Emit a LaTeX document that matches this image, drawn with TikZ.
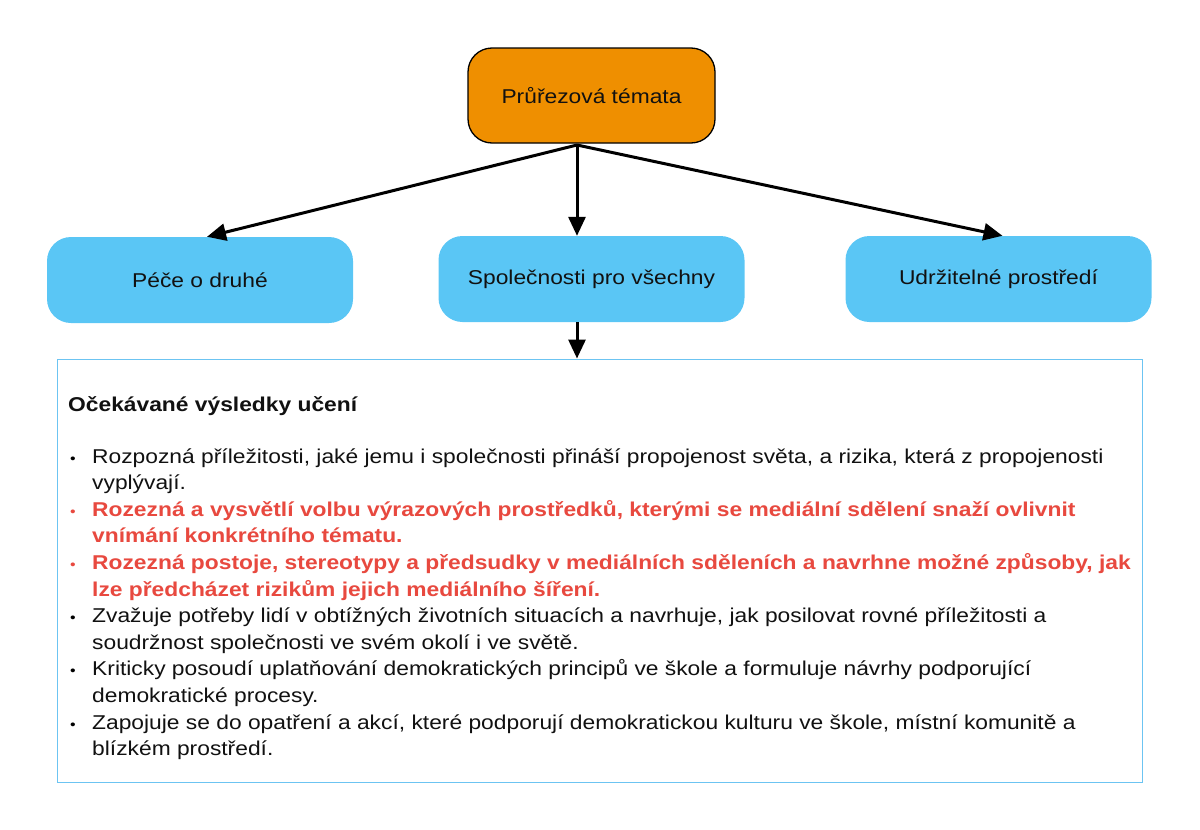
\documentclass[tikz,border=0pt]{standalone}
\usepackage{fontspec}
\setmainfont{Liberation Sans}[FakeStretch=1.14]
\usetikzlibrary{arrows.meta,calc}
\definecolor{topfill}{HTML}{EF8F00}
\definecolor{boxblue}{HTML}{5AC6F5}
\definecolor{frameblue}{HTML}{6CC4F2}
\definecolor{redtext}{HTML}{E8493F}
\definecolor{darktext}{HTML}{111111}
\tikzset{
  topbox/.style={draw=black, line width=1.3pt, fill=topfill, rounded corners=24pt,
    minimum width=247pt, minimum height=95pt, font=\fontsize{20}{24}\selectfont, text=darktext},
  subbox/.style={fill=boxblue, rounded corners=24pt,
    minimum width=306pt, minimum height=86pt, font=\fontsize{20}{24}\selectfont, text=darktext},
  conn/.style={line width=3pt, -{Triangle[length=19pt,width=17pt]}},
  line/.style={anchor=base west, inner sep=0pt, font=\fontsize{20}{24}\selectfont, text=darktext},
  redline/.style={line, font=\fontsize{20}{24}\bfseries\selectfont, text=redtext},
  bul/.style={anchor=base, inner sep=0pt, font=\fontsize{14}{16}\selectfont},
}
\begin{document}
\begin{tikzpicture}[x=1pt,y=-1pt]
\useasboundingbox (0,0) rectangle (1200,830);
\node[topbox] (top) at (591.5,95.5) {Průřezová témata};
\node[subbox] (left) at (200,280) {Péče o druhé};
\node[subbox] (mid) at (591.5,279) {Společnosti pro všechny};
\node[subbox] (right) at (998.5,279) {Udržitelné prostředí};
\node[draw=frameblue, line width=1pt, fill=white, minimum width=1085pt, minimum height=423pt, inner sep=0pt] (big) at (599.5,570.5) {};
\coordinate (src) at (577,145);
\draw[conn] (src) -- ([xshift=7pt]left.north);
\draw[conn] (src) -- (src |- mid.north);
\draw[conn] (src) -- ([xshift=4pt]right.north);
\draw[conn] (mid.south -| src) -- (src |- big.north);
\node[line, font=\fontsize{20}{24}\bfseries\selectfont] (title) at (68,411) {Očekávané výsledky učení};
\node[bul] (b1) at (73,463) {•};
\node[line] (l1) at (92,463) {Rozpozná příležitosti, jaké jemu i společnosti přináší propojenost světa, a rizika, která z propojenosti};
\node[line] (l2) at (92,489.6) {vyplývají.};
\node[bul, text=redtext] (b2) at (73,516.2) {•};
\node[redline] (l3) at (92,516.2) {Rozezná a vysvětlí volbu výrazových prostředků, kterými se mediální sdělení snaží ovlivnit};
\node[redline] (l4) at (92,542.8) {vnímání konkrétního tématu.};
\node[bul, text=redtext] (b3) at (73,569.4) {•};
\node[redline] (l5) at (92,569.4) {Rozezná postoje, stereotypy a předsudky v mediálních sděleních a navrhne možné způsoby, jak};
\node[redline] (l6) at (92,596) {lze předcházet rizikům jejich mediálního šíření.};
\node[bul] (b4) at (73,622.6) {•};
\node[line] (l7) at (92,622.6) {Zvažuje potřeby lidí v obtížných životních situacích a navrhuje, jak posilovat rovné příležitosti a};
\node[line] (l8) at (92,649.2) {soudržnost společnosti ve svém okolí i ve světě.};
\node[bul] (b5) at (73,675.8) {•};
\node[line] (l9) at (92,675.8) {Kriticky posoudí uplatňování demokratických principů ve škole a formuluje návrhy podporující};
\node[line] (l10) at (92,702.4) {demokratické procesy.};
\node[bul] (b6) at (73,729) {•};
\node[line] (l11) at (92,729) {Zapojuje se do opatření a akcí, které podporují demokratickou kulturu ve škole, místní komunitě a};
\node[line] (l12) at (92,755.6) {blízkém prostředí.};
\end{tikzpicture}
\end{document}
